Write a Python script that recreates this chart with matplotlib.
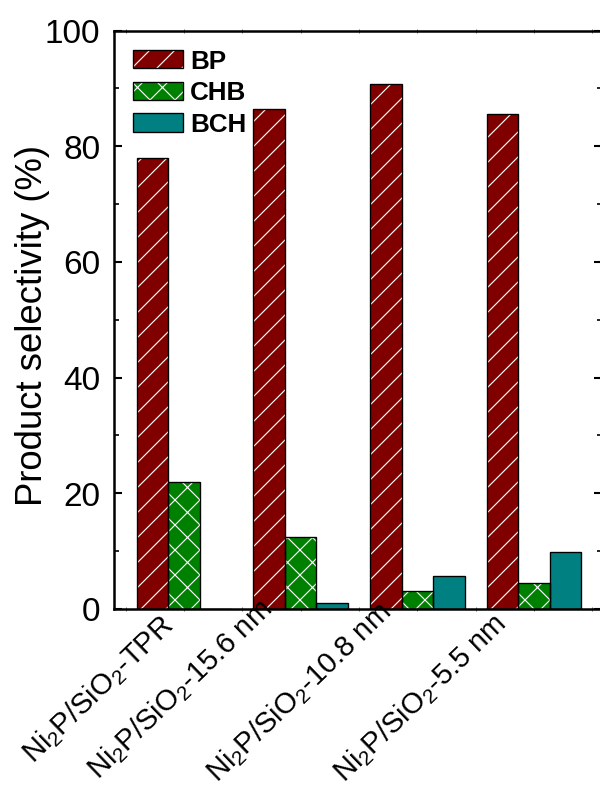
import matplotlib
matplotlib.use("Agg")
import matplotlib.pyplot as plt
import numpy as np
from matplotlib.patches import Patch
from matplotlib.ticker import MultipleLocator, FixedLocator, NullFormatter
import matplotlib.transforms as mtransforms

plt.rcParams['font.family'] = ['Liberation Sans', 'DejaVu Sans']
plt.rcParams['mathtext.fontset'] = 'custom'
plt.rcParams['mathtext.rm'] = 'Liberation Sans'
plt.rcParams['mathtext.it'] = 'Liberation Sans'
plt.rcParams['hatch.linewidth'] = 1.1

# ---- data ----
categories = ["Ni$_2$P/SiO$_2$-TPR", "Ni$_2$P/SiO$_2$-15.6 nm",
              "Ni$_2$P/SiO$_2$-10.8 nm", "Ni$_2$P/SiO$_2$-5.5 nm"]
series_names = ["BP", "CHB", "BCH"]
bp = [78.0, 86.5, 90.8, 85.5]
chb = [22.0, 12.5, 3.1, 4.5]
bch = [0.0, 1.0, 5.7, 9.9]
yticks = [0, 20, 40, 60, 80, 100]

colors = ["#800000", "#008000", "#008080"]
hatches = ["/", "x", None]

DPI = 75
fig = plt.figure(figsize=(8, 10.54), dpi=DPI)
ax = fig.add_axes([0.19, 0.2291, 0.8133, 0.7316])

x = np.arange(len(categories))
w = 0.27
values = [bp, chb, bch]
offs = [-w, 0, w]
handles = []
for vals, off, c, h, name in zip(values, offs, colors, hatches, series_names):
    ax.bar(x + off, vals, w, color=c, edgecolor="white" if h else c,
           hatch=h, linewidth=0, zorder=2)
    ax.bar(x + off, vals, w, fill=False, edgecolor="black", linewidth=1.3, zorder=3)
    hp = Patch(facecolor=c, edgecolor="white" if h else c, hatch=h, linewidth=0)
    op = Patch(fill=False, edgecolor="black", linewidth=1.3)
    handles.append((hp, op))

ax.set_xlim(-0.6, 3.582)
ax.set_ylim(0, 100)
ax.set_yticks(yticks)
ax.yaxis.set_minor_locator(MultipleLocator(10))

ax.set_xticks(x)
ax.xaxis.set_major_formatter(NullFormatter())
ax.xaxis.set_minor_locator(FixedLocator(np.arange(-0.5, len(categories), 1.0)))

# rotated category labels, anchored at baseline end (pixel offsets from tick / axis bottom)
label_dx = [-9, -27, -25, -26]
label_dy = [-18, -2, -5, -16]
base = ax.get_xaxis_transform()
for xi, lab, dx, dy in zip(x, categories, label_dx, label_dy):
    tr = base + mtransforms.ScaledTranslation(dx / DPI, dy / DPI, fig.dpi_scale_trans)
    ax.text(xi, 0, lab, transform=tr, rotation=44, rotation_mode="anchor",
            ha="right", va="baseline", fontsize=28, clip_on=False)

ax.tick_params(axis="y", which="major", direction="in", length=7.7, width=2,
               labelsize=32, pad=13, left=True, right=True)
ax.tick_params(axis="y", which="minor", direction="in", length=4.8, width=1.6,
               left=True, right=True)
ax.tick_params(axis="x", which="both", direction="inout", length=3, width=0.8,
               color="#555555", top=True, bottom=True)

for s in ax.spines.values():
    s.set_linewidth(2.4)

ax.set_ylabel("Product selectivity (%)", fontsize=35)
ax.yaxis.set_label_coords(-0.131, 0.491)

leg = ax.legend(handles, series_names, loc="upper left",
                bbox_to_anchor=(0.039, 0.968), frameon=False,
                borderpad=0, borderaxespad=0, handlelength=1.9,
                handleheight=0.72, handletextpad=0.3, labelspacing=0.3,
                prop={"weight": "bold", "size": 25})

fig.savefig("out.png", dpi=DPI)
